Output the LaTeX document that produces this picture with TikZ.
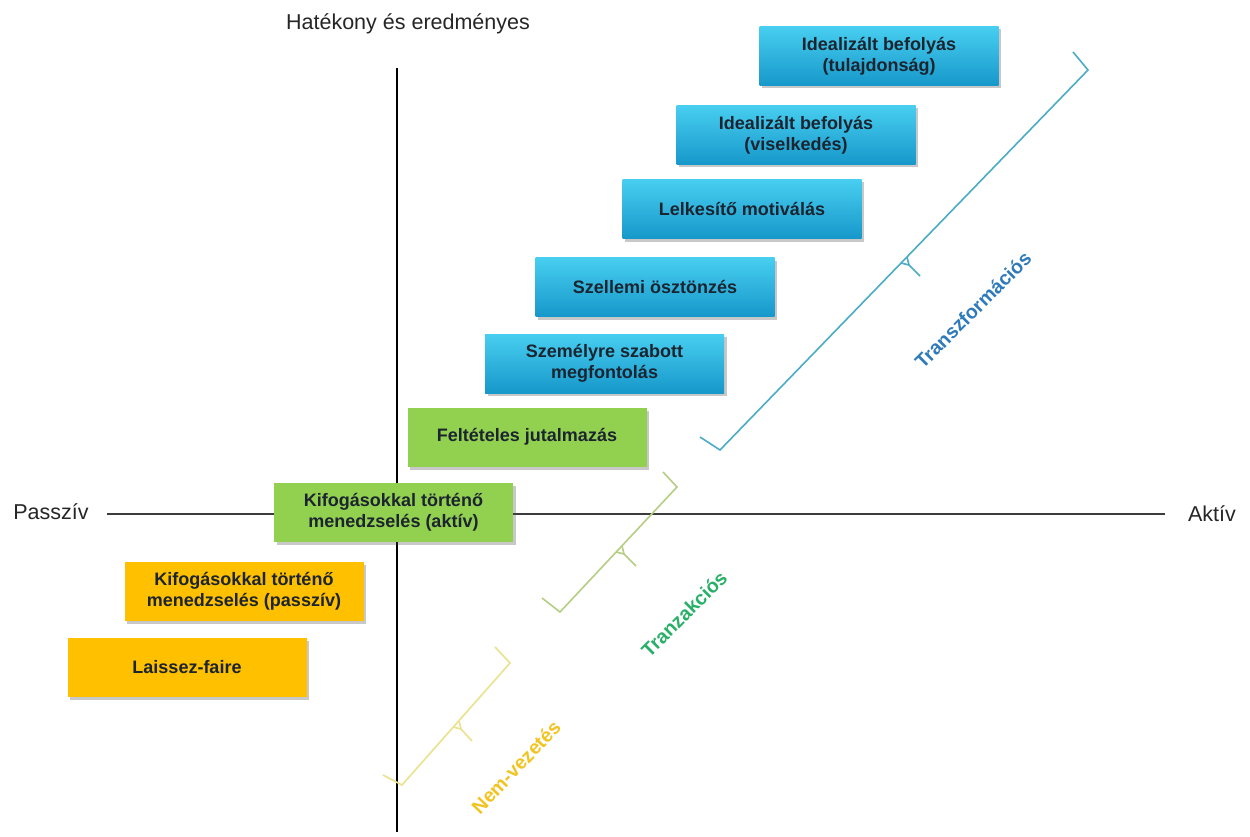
\documentclass[tikz,border=0pt]{standalone}
\usepackage{fontspec}
\setmainfont{Liberation Sans}
\usetikzlibrary{shadows}
\definecolor{bluetop}{RGB}{72,206,240}
\definecolor{bluebot}{RGB}{22,152,202}
\definecolor{boxgreen}{RGB}{146,208,80}
\definecolor{boxorange}{RGB}{255,192,0}
\definecolor{txtdark}{RGB}{28,36,48}
\definecolor{brTr}{RGB}{75,172,198}
\definecolor{brTa}{RGB}{182,206,132}
\definecolor{brNe}{RGB}{234,226,140}
\definecolor{lbTr}{RGB}{46,122,186}
\definecolor{lbTa}{RGB}{40,176,104}
\definecolor{lbNe}{RGB}{242,196,34}
\definecolor{axisgray}{RGB}{60,60,60}
\tikzset{
  lbox/.style={minimum width=239pt, minimum height=59pt, inner sep=0pt, align=center,
    font=\fontsize{18}{21}\selectfont\bfseries, text=txtdark,
    drop shadow={shadow xshift=2.5pt, shadow yshift=-3pt, opacity=0.3, fill=black!70}},
  bluebox/.style={lbox, top color=bluetop, bottom color=bluebot},
  greenbox/.style={lbox, fill=boxgreen},
  orangebox/.style={lbox, fill=boxorange},
  axlabel/.style={font=\fontsize{21.5}{24}\selectfont, text=black!85},
  bracketline/.style={line width=1.6pt, line join=miter},
  brlabel/.style={font=\fontsize{19.5}{22}\selectfont\bfseries, rotate=45}
}
\begin{document}
\begin{tikzpicture}[x=1pt,y=-1pt]
\useasboundingbox[fill=white] (0,0) rectangle (1250,837);

% axes
\coordinate (vtop) at (397,68);
\coordinate (vbot) at (397,832);
\coordinate (hleft) at (107,514);
\coordinate (hright) at (1165,514);
\draw[line width=1.5pt, black] (vtop) -- (vbot);
\draw[line width=1.8pt, axisgray] (hleft) -- (hright);

\node[axlabel] (ylabel) at (408,24) {Hatékony és eredményes};
\node[axlabel] (passziv) at (51,512) {Passzív};
\node[axlabel] (aktiv) at (1212,514) {Aktív};

% brackets
% Transzformacios
\coordinate (t1) at (700,437);
\coordinate (t2) at (720,450);
\coordinate (t3) at (1088,70);
\coordinate (t4) at (1073,52);
\coordinate (tm1) at (901,263);
\coordinate (tm2) at (907,257);
\coordinate (tmj) at (909,265);
\coordinate (tme) at (920,276);
\draw[bracketline, brTr] (t1) -- (t2) -- (t3) -- (t4);
\draw[bracketline, brTr] (tm1) -- (tmj) -- (tme);
\draw[bracketline, brTr] (tm2) -- (tmj);

% Tranzakcios
\coordinate (a1) at (542,598);
\coordinate (a2) at (560,612);
\coordinate (a3) at (677,487);
\coordinate (a4) at (663,472);
\coordinate (am1) at (616,552);
\coordinate (am2) at (622,546);
\coordinate (amj) at (624,554);
\coordinate (ame) at (636,566);
\draw[bracketline, brTa] (a1) -- (a2) -- (a3) -- (a4);
\draw[bracketline, brTa] (am1) -- (amj) -- (ame);
\draw[bracketline, brTa] (am2) -- (amj);

% Nem-vezetes
\coordinate (n1) at (383,775);
\coordinate (n2) at (402,785);
\coordinate (n3) at (510,663);
\coordinate (n4) at (495,647);
\coordinate (nm1) at (453,727);
\coordinate (nm2) at (459,721);
\coordinate (nmj) at (461,729);
\coordinate (nme) at (472,741);
\draw[bracketline, brNe] (n1) -- (n2) -- (n3) -- (n4);
\draw[bracketline, brNe] (nm1) -- (nmj) -- (nme);
\draw[bracketline, brNe] (nm2) -- (nmj);

\node[brlabel, text=lbTr] (lTr) at (973,310) {Transzformációs};
\node[brlabel, text=lbTa] (lTa) at (684,614) {Tranzakciós};
\node[brlabel, text=lbNe, rotate=1.5] (lNe) at (516,767) {Nem-vezetés};

% boxes
\node[bluebox] (b1) at (879,56) {Idealizált befolyás\\(tulajdonság)};
\node[bluebox] (b2) at (796,135) {Idealizált befolyás\\(viselkedés)};
\node[bluebox] (b3) at (742,209) {Lelkesítő motiválás};
\node[bluebox] (b4) at (655,287) {Szellemi ösztönzés};
\node[bluebox] (b5) at (604.5,363.5) {Személyre szabott\\megfontolás};
\node[greenbox] (b6) at (527,437) {Feltételes jutalmazás};
\node[greenbox] (b7) at (393.5,512.5) {Kifogásokkal történő\\menedzselés (aktív)};
\node[orangebox] (b8) at (244,591.5) {Kifogásokkal történő\\menedzselés (passzív)};
\node[orangebox] (b9) at (187,667.5) {Laissez-faire};
\end{tikzpicture}
\end{document}
